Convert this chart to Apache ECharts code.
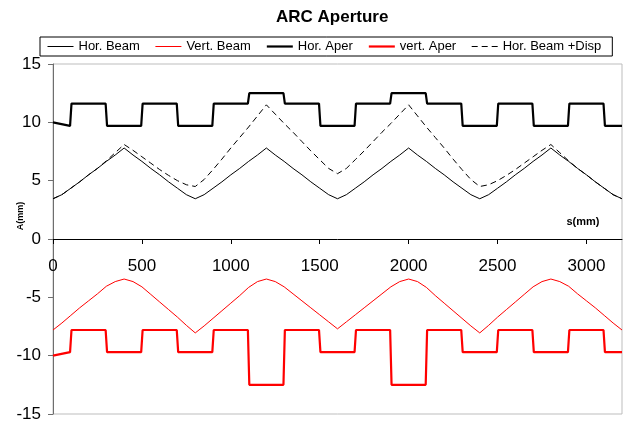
<!DOCTYPE html>
<html>
<head>
<meta charset="utf-8">
<title>ARC Aperture</title>
<script src="https://cdn.jsdelivr.net/npm/echarts@6/dist/echarts.min.js"></script>
<style>
  html, body { margin: 0; padding: 0; background: #fff; }
  #chart { width: 624px; height: 421px; }
</style>
</head>
<body>
<div id="chart"></div>
<script>
// Longitudinal positions (mm) where the beam envelopes are sampled
const sBeam = [
  0, 50, 100, 150, 200, 250, 300, 350, 400, 450, 500, 550, 600, 650, 700, 750,
  800, 850, 900, 950, 1000, 1050, 1100, 1150, 1200, 1250, 1300, 1350, 1400, 1450, 1500, 1550,
  1600, 1650, 1700, 1750, 1800, 1850, 1900, 1950, 2000, 2050, 2100, 2150, 2200, 2250, 2300, 2350,
  2400, 2450, 2500, 2550, 2600, 2650, 2700, 2750, 2800, 2850, 2900, 2950, 3000, 3050, 3100, 3150,
  3200
];

// Horizontal beam envelope (mm)
const horBeam = [
  3.45, 3.8, 4.35, 4.9, 5.5, 6.05, 6.65, 7.2, 7.8, 7.2, 6.65, 6.05, 5.5, 4.9, 4.35, 3.8,
  3.45, 3.8, 4.35, 4.9, 5.5, 6.05, 6.65, 7.2, 7.8, 7.2, 6.65, 6.05, 5.5, 4.9, 4.35, 3.8,
  3.45, 3.8, 4.35, 4.9, 5.5, 6.05, 6.65, 7.2, 7.8, 7.2, 6.65, 6.05, 5.5, 4.9, 4.35, 3.8,
  3.45, 3.8, 4.35, 4.9, 5.5, 6.05, 6.65, 7.2, 7.8, 7.2, 6.65, 6.05, 5.5, 4.9, 4.35, 3.8,
  3.45
];

// Vertical beam envelope (mm), drawn below the axis
const vertBeam = [
  -7.8, -7.2, -6.55, -5.9, -5.3, -4.7, -4.05, -3.65, -3.43, -3.65, -4.1, -4.75, -5.4, -6.05, -6.7, -7.4,
  -8.05, -7.45, -6.8, -6.15, -5.5, -4.85, -4.15, -3.65, -3.43, -3.65, -4.1, -4.7, -5.3, -5.9, -6.5, -7.1,
  -7.7, -7.1, -6.5, -5.9, -5.3, -4.7, -4.1, -3.65, -3.43, -3.65, -4.15, -4.85, -5.5, -6.15, -6.8, -7.45,
  -8.05, -7.4, -6.7, -6.05, -5.4, -4.75, -4.1, -3.65, -3.43, -3.65, -4.05, -4.7, -5.3, -5.9, -6.55, -7.2,
  -7.8
];

// Horizontal beam envelope including dispersion (mm)
const horBeamDisp = [
  3.45, 3.8, 4.35, 4.9, 5.5, 6.05, 6.7, 7.4, 8.1, 7.6, 7.05, 6.5, 5.95, 5.45, 5.0, 4.65,
  4.5, 5.1, 5.95, 6.85, 7.8, 8.7, 9.6, 10.55, 11.5, 10.7, 9.9, 9.15, 8.35, 7.55, 6.8, 6.05,
  5.6, 6.05, 6.8, 7.55, 8.35, 9.15, 9.9, 10.7, 11.5, 10.55, 9.6, 8.7, 7.8, 6.85, 5.95, 5.1,
  4.5, 4.65, 5.0, 5.45, 5.95, 6.5, 7.05, 7.6, 8.1, 7.4, 6.7, 6.05, 5.5, 4.9, 4.35, 3.8,
  3.45
];

// Aperture profile break points (mm)
const sAper = [
  0, 96, 104, 296, 304, 496, 504, 696, 704, 896, 904, 1096, 1104, 1296, 1304, 1496, 1504,
  1696, 1704, 1896, 1904, 2096, 2104, 2296, 2304, 2496, 2504, 2696, 2704, 2896, 2904, 3096, 3104, 3200
];

const horAper = [
  10.0, 9.7, 11.6, 11.6, 9.7, 9.7, 11.6, 11.6, 9.7, 9.7, 11.6, 11.6, 12.5, 12.5, 11.6, 11.6, 9.7,
  9.7, 11.6, 11.6, 12.5, 12.5, 11.6, 11.6, 9.7, 9.7, 11.6, 11.6, 9.7, 9.7, 11.6, 11.6, 9.7, 9.7
];

const vertAper = [
  -10.0, -9.7, -7.8, -7.8, -9.7, -9.7, -7.8, -7.8, -9.7, -9.7, -7.8, -7.8, -12.5, -12.5, -7.8, -7.8, -9.7,
  -9.7, -7.8, -7.8, -12.5, -12.5, -7.8, -7.8, -9.7, -9.7, -7.8, -7.8, -9.7, -9.7, -7.8, -7.8, -9.7, -9.7
];

const seriesNames = ['Hor. Beam', 'Vert. Beam', 'Hor. Aper', 'vert. Aper', 'Hor. Beam +Disp'];
const yTicks = { min: -15, max: 15, step: 5 };
const xTicks = { min: 0, max: 3200, step: 500 };

const FONT = '"Liberation Sans", Arial, sans-serif';

// Plot frame inside the 624x421 canvas
const W = 624, H = 421;
const gridBox = { left: 53, right: 2, top: 64, bottom: 7 };
const plotHeight = H - gridBox.top - gridBox.bottom;
// s axis sits on A = 0, which is the vertical middle of the symmetric A range
const zeroOffset = -plotHeight * (0 - yTicks.min) / (yTicks.max - yTicks.min);

function pairs(xs, ys) {
  return xs.map((x, i) => [x, ys[i]]);
}

function lineSeries(name, xs, ys, color, width, type) {
  return {
    name: name,
    type: 'line',
    data: pairs(xs, ys),
    symbol: 'none',
    smooth: false,
    lineStyle: { color: color, width: width, type: type || 'solid' },
    itemStyle: { color: color },
    emphasis: { disabled: true },
    z: 3
  };
}

const chart = echarts.init(document.getElementById('chart'), null, { renderer: 'canvas' });

chart.setOption({
  animation: false,
  backgroundColor: '#ffffff',
  title: {
    text: 'ARC Aperture',
    left: 271,
    top: 4,
    textStyle: { fontFamily: FONT, fontSize: 17, fontWeight: 'bold', color: '#000' }
  },
  legend: {
    data: seriesNames,
    left: 40,
    top: 37,
    orient: 'horizontal',
    itemWidth: 26,
    itemHeight: 14,
    itemGap: 15,
    padding: [3, 11, 3, 7],
    borderColor: '#000',
    borderWidth: 1,
    itemStyle: { opacity: 0, borderWidth: 0 },
    lineStyle: { width: 'inherit' },
    textStyle: { fontFamily: FONT, fontSize: 13, color: '#000' },
    selectedMode: false
  },
  grid: {
    left: gridBox.left,
    right: gridBox.right,
    top: gridBox.top,
    bottom: gridBox.bottom,
    containLabel: false,
    outerBoundsMode: 'none',
    show: true,
    borderColor: '#bdbdbd',
    borderWidth: 1,
    backgroundColor: 'transparent'
  },
  xAxis: {
    type: 'value',
    position: 'bottom',
    offset: zeroOffset,
    min: xTicks.min,
    max: xTicks.max,
    interval: xTicks.step,
    axisLine: { show: true, onZero: false, lineStyle: { color: '#000', width: 1 } },
    axisTick: { show: true, length: 5, lineStyle: { color: '#000' } },
    axisLabel: {
      fontFamily: FONT, fontSize: 17, color: '#000', margin: 19,
      showMaxLabel: false,
      formatter: v => String(v)
    },
    splitLine: { show: false }
  },
  yAxis: {
    type: 'value',
    min: yTicks.min,
    max: yTicks.max,
    interval: yTicks.step,
    axisLine: { show: true, onZero: false, lineStyle: { color: '#6e6e6e', width: 1 } },
    axisTick: { show: true, length: 5, lineStyle: { color: '#6e6e6e' } },
    axisLabel: { fontFamily: FONT, fontSize: 17, color: '#000', margin: 12 },
    splitLine: { show: false }
  },
  graphic: [
    {
      type: 'text',
      x: 21,
      y: 216,
      rotation: Math.PI / 2,
      style: {
        text: 'A(mm)',
        font: 'bold 9px ' + FONT,
        fill: '#000',
        textAlign: 'center',
        textVerticalAlign: 'middle'
      }
    },
    {
      type: 'text',
      x: 583,
      y: 222,
      style: {
        text: 's(mm)',
        font: 'bold 11px ' + FONT,
        fill: '#000',
        textAlign: 'center',
        textVerticalAlign: 'middle'
      }
    }
  ],
  series: [
    lineSeries(seriesNames[0], sBeam, horBeam, '#000000', 1),
    lineSeries(seriesNames[1], sBeam, vertBeam, '#ff0000', 1),
    lineSeries(seriesNames[2], sAper, horAper, '#000000', 2.2),
    lineSeries(seriesNames[3], sAper, vertAper, '#ff0000', 2.2),
    lineSeries(seriesNames[4], sBeam, horBeamDisp, '#000000', 1, [6, 4])
  ]
});
</script>
</body>
</html>
